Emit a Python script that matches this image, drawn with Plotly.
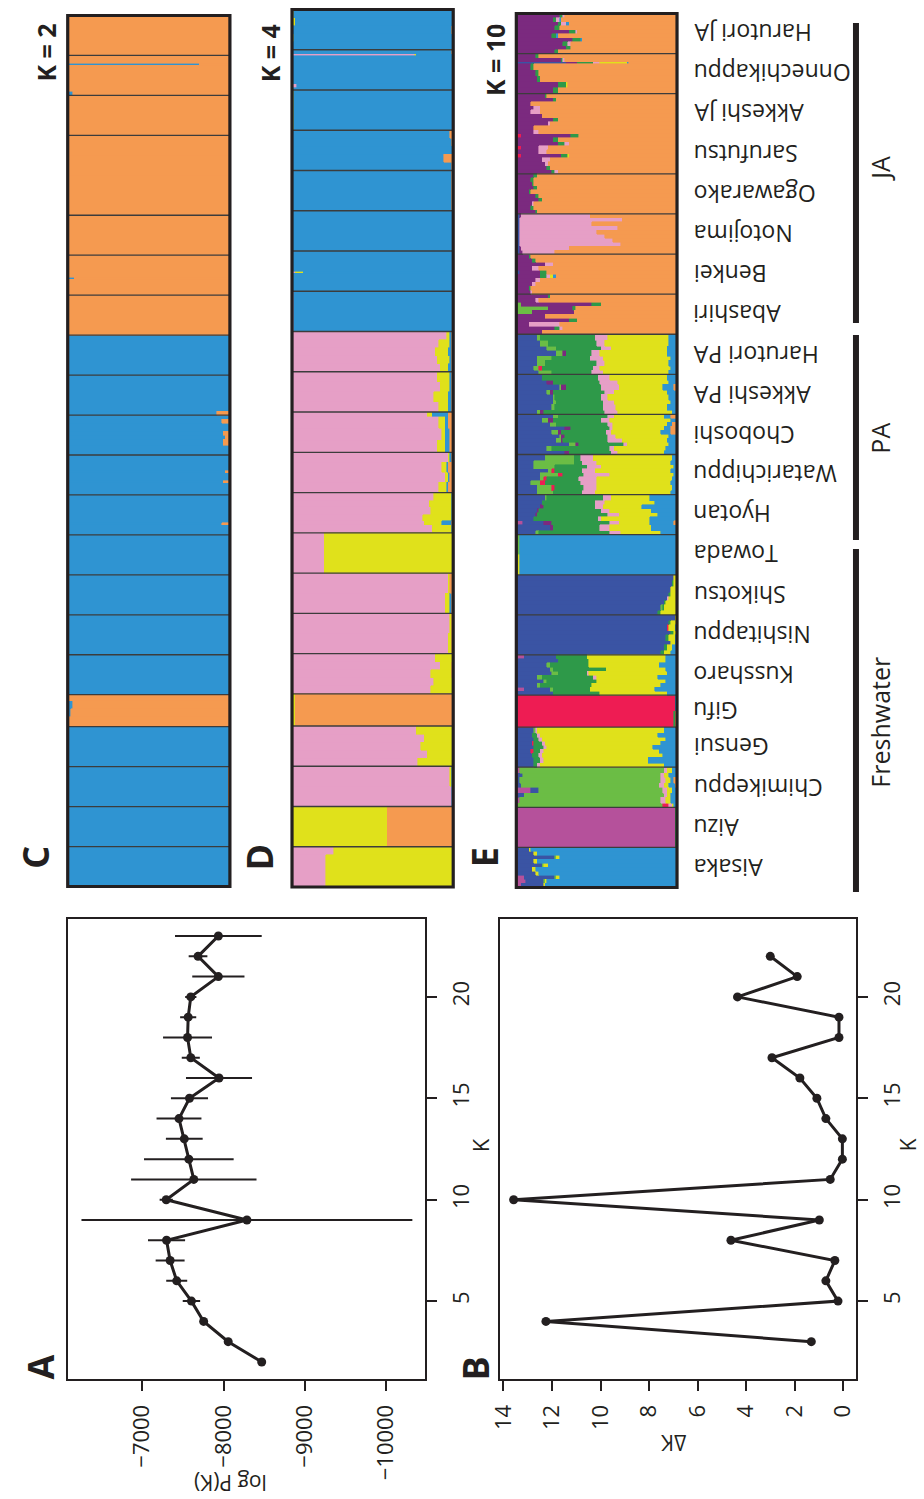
import plotly.graph_objects as go

W, H = 924, 1499
FONT = "Open Sans"
INK = "#231F20"

# ---------------- Panel A / B data ----------------
K_RANGE = list(range(2, 24))
LOGPK_MEAN = [-8469, -8057, -7755, -7605, -7424, -7343, -7299, -8287, -7295, -7634, -7573,
              -7517, -7452, -7581, -7944, -7597, -7557, -7565, -7597, -7936, -7686, -7936]
LOGPK_SD = [10, 24, 15, 107, 129, 178, 228, 2034, 81, 771, 551,
            226, 276, 228, 406, 111, 301, 99, 69, 321, 115, 533]
DK_K = list(range(3, 23))
DELTA_K = [1.32, 12.25, 0.22, 0.72, 0.35, 4.63, 0.99, 13.58, 0.54, 0.04,
           0.04, 0.72, 1.09, 1.79, 2.94, 0.18, 0.18, 4.36, 1.90, 3.01]
LOGPK_TICKS = [-7000, -8000, -9000, -10000]
DK_TICKS = [0, 2, 4, 6, 8, 10, 12, 14]
K_TICKS = [5, 10, 15, 20]

# ---------------- STRUCTURE data ----------------
POPULATIONS = ["Harutori JA", "Onnechikappu", "Akkeshi JA", "Sarufutsu", "Ogawarako", "Notojima",
               "Benkei", "Abashiri", "Harutori PA", "Akkeshi PA", "Choboshi", "Watarichippu", "Hyotan",
               "Towada", "Shikotsu", "Nishitappu", "Kussharo", "Gifu", "Gensui", "Chimikeppu",
               "Aizu", "Aisaka"]
POP_SIZES = [20, 20, 20, 20, 20, 20, 20, 20, 20, 20, 20, 20, 20, 20, 20, 20, 20, 16, 20, 20, 20, 20]
GROUPS = ["JA", "PA", "Freshwater"]

K2_CLUSTERS = ["B", "O"]
K4_CLUSTERS = ["K", "Y", "B", "O"]
K10_CLUSTERS = ["M", "N", "L", "R", "P", "G", "K", "Y", "B", "O"]
COLORS = {"M": "#B5519B", "N": "#3A54A4", "L": "#6BBD45", "R": "#EE1C53", "P": "#7B2A7F",
          "G": "#2E9949", "K": "#E69FC6", "Y": "#E0E11B", "B": "#2F94D2", "O": "#F59A50"}

# rows per population: (individuals, admixture % by cluster; '*' = remainder)
K2_ROWS = {
    "Harutori JA": [(20, "B1 O*")],
    "Onnechikappu": [(4, "B1 O*"), (1, "B81 O*"), (13, "B1 O*"), (2, "B3 O*")],
    "Akkeshi JA": [(20, "O*")],
    "Sarufutsu": [(10, "B1 O*"), (10, "O*")],
    "Ogawarako": [(20, "O*")],
    "Notojima": [(20, "O*")],
    "Benkei": [(11, "O*"), (1, "B4 O*"), (8, "O*")],
    "Abashiri": [(20, "O*")],
    "Harutori PA": [(20, "B*")],
    "Akkeshi PA": [(18, "B*"), (2, "B92 O*")],
    "Choboshi": [(2, "B*"), (2, "B95 O*"), (4, "B*"), (2, "B96 O*"), (2, "B97 O*"), (3, "B96 O*"), (5, "B*")],
    "Watarichippu": [(8, "B*"), (1, "B97 O*"), (4, "B*"), (1, "B96 O*"), (6, "B*")],
    "Hyotan": [(14, "B*"), (1, "B95 O*"), (5, "B*")],
    "Towada": [(20, "B*")],
    "Shikotsu": [(20, "B*")],
    "Nishitappu": [(20, "B*")],
    "Kussharo": [(20, "B*")],
    "Gifu": [(3, "B1 O*"), (4, "B3 O*"), (4, "B2 O*"), (5, "B1 O*")],
    "Gensui": [(20, "B*")],
    "Chimikeppu": [(20, "B99 O*")],
    "Aizu": [(20, "B*")],
    "Aisaka": [(20, "B*")],
}

K4_ROWS = {
    "Harutori JA": [(4, "Y1 B*"), (4, "Y2 B*"), (4, "B* O1"), (4, "Y1 B*"), (4, "B*")],
    "Onnechikappu": [(2, "B* O1"), (1, "K76 Y1 B*"), (14, "B*"), (2, "K3 B*"), (1, "B*")],
    "Akkeshi JA": [(20, "Y1 B*")],
    "Sarufutsu": [(4, "B* O2"), (4, "B* O1"), (4, "B*"), (4, "B* O6"), (4, "B* O1")],
    "Ogawarako": [(20, "B* O1")],
    "Notojima": [(20, "B*")],
    "Benkei": [(10, "B*"), (1, "K2 Y5 B*"), (9, "B*")],
    "Abashiri": [(20, "K1 B*")],
    "Harutori PA": [(4, "K96 Y2 B1 O*"), (4, "K91 Y7 B1 O*"), (4, "K89 Y8 B2 O*"),
                    (4, "K90 Y8 B1 O*"), (4, "K92 Y5 B2 O*")],
    "Akkeshi PA": [(5, "K90 Y8 B1 O*"), (5, "K92 Y6 B1 O*"), (5, "K88 Y9 B2 O*"), (5, "K91 Y6 B2 O*")],
    "Choboshi": [(2, "K84 Y3 B10 O*"), (6, "K91 Y4 B2 O*"), (6, "K93 Y2 B3 O*"), (6, "K90 Y5 B3 O*")],
    "Watarichippu": [(5, "K97 Y1 B1 O*"), (5, "K93 Y3 B1 O*"), (5, "K95 Y2 B1 O*"), (5, "K91 Y5 B1 O*")],
    "Hyotan": [(4, "K88 Y11 B*"), (3, "K85 Y14 B*"), (4, "K86 Y13 B*"), (3, "K81 Y18 B*"),
               (2, "K82 Y11 B6 O*"), (4, "K87 Y12 B*")],
    "Towada": [(20, "K20 Y*")],
    "Shikotsu": [(10, "K97 Y1 O*"), (10, "K95 Y3 B1 O*")],
    "Nishitappu": [(10, "K98 Y1 O*"), (10, "K97 Y2 O*")],
    "Kussharo": [(4, "K89 Y*"), (4, "K92 Y7 O*"), (4, "K86 Y13 O*"), (4, "K88 Y*"), (4, "K86 Y*")],
    "Gifu": [(16, "Y2 O*")],
    "Gensui": [(4, "K77 Y*"), (4, "K82 Y*"), (4, "K80 Y*"), (4, "K84 Y*"), (4, "K78 Y*")],
    "Chimikeppu": [(10, "K98 Y1 B*"), (10, "K99 B*")],
    "Aizu": [(20, "Y59 O*")],
    "Aisaka": [(4, "K26 Y*"), (16, "K21 Y*")],
}

K10_ROWS = {
    "Harutori JA": [(2, "N1 P26 G2 K1 O*"), (2, "N1 P22 G2 K2 B1 O*"), (2, "P26 G2 K3 B2 O*"),
                    (2, "N1 P23 G3 O*"), (2, "P33 G4 K1 O*"), (2, "N1 P21 G3 B1 O*"), (2, "P35 G5 B1 O*"),
                    (2, "P29 G3 K2 O*"), (2, "N1 P30 G3 O*"), (2, "P24 G2 O*")],
    "Onnechikappu": [(2, "P12 G2 O*"), (2, "P28 G1 K1 O*"), (1, "N31 P7 G10 K4 Y17 B1 O*"),
                     (3, "P9 G2 O*"), (3, "P12 G2 O*"), (3, "P13 G2 O*"), (3, "P26 G5 Y1 O*"), (3, "P23 G3 O*")],
    "Akkeshi JA": [(2, "P18 G1 O*"), (2, "P23 G2 O*"), (2, "P9 O*"), (2, "P11 K4 O*"), (2, "P9 K6 O*"),
                   (2, "P16 O*"), (2, "P23 G3 O*"), (2, "P20 K1 O*"), (2, "P11 O*"), (2, "P11 K3 O*")],
    "Sarufutsu": [(2, "R3 P31 G5 O*"), (2, "P23 G3 O*"), (2, "P26 G4 K3 O*"), (2, "R3 P11 K6 O*"),
                  (2, "P14 K5 O*"), (2, "R3 P25 G4 Y1 O*"), (2, "P16 K5 O*"), (2, "P18 K2 O*"),
                  (2, "P19 G2 O*"), (2, "P22 G2 K2 O*")],
    "Ogawarako": [(2, "P11 G2 O*"), (2, "P9 G2 O*"), (2, "P10 G1 O*"), (2, "P11 G2 O*"), (2, "P8 G1 O*"),
                  (2, "P12 G2 O*"), (2, "P14 G2 O*"), (2, "P10 K1 O*"), (2, "P9 G2 O*"), (2, "P12 G1 O*")],
    "Notojima": [(2, "N2 P1 K43 O*"), (2, "N2 K64 O*"), (2, "N2 K45 O*"), (2, "N2 K61 O*"), (2, "N2 K48 O*"),
                 (2, "N2 K53 O*"), (2, "N2 K58 O*"), (2, "N2 K63 O*"), (2, "N2 P1 K30 O*"), (2, "N2 P2 K20 O*")],
    "Benkei": [(2, "P8 G1 O*"), (2, "P10 G2 O*"), (2, "P18 K5 O*"), (2, "P10 K4 O*"), (2, "N2 P13 G4 O*"),
               (2, "P15 G4 K2 Y2 B2 O*"), (2, "P12 K3 O*"), (2, "P10 K2 O*"), (2, "P8 G1 O*"), (2, "P9 K1 O*")],
    "Abashiri": [(2, "P20 G1 O*"), (2, "P12 K2 O*"), (2, "L3 P44 G6 O*"), (2, "L20 P15 G2 O*"),
                 (2, "L10 P26 O*"), (2, "P18 O*"), (2, "P33 G5 O*"), (2, "P8 K19 O*"), (2, "P24 G3 K2 O*"),
                 (2, "P16 O*")],
    "Harutori PA": [(3, "M1 N12 L2 G34 K8 Y38 B*"), (3, "N15 L5 G30 K5 Y40 B*"), (2, "N19 L6 G28 K6 Y35 B*"),
                    (3, "N25 L4 P2 G16 K5 Y42 B*"), (2, "N13 L9 G24 K8 Y42 B*"), (3, "N13 L5 G32 K5 Y40 B*"),
                    (2, "N11 L3 R2 G32 K4 Y44 B*"), (2, "N14 L8 G25 K7 Y41 B*")],
    "Akkeshi PA": [(3, "N16 G35 K7 Y36 B*"), (2, "N19 P4 G29 K11 Y32 B*"), (3, "N27 L1 P3 G22 K11 Y27 B7 O*"),
                   (2, "N19 L2 P2 G32 K6 Y33 B*"), (3, "N23 L1 G29 K4 Y38 B*"), (2, "N23 L2 G29 K7 Y35 B*"),
                   (3, "N22 L2 G30 K8 Y32 B*"), (2, "N13 L2 P2 G38 K8 Y34 B*")],
    "Choboshi": [(2, "N23 L3 G31 K4 Y31 B4 O*"), (2, "N16 L4 P3 G30 K5 Y38 B*"), (2, "N21 L4 G32 K3 Y34 B3 O*"),
                 (2, "N30 P4 G24 K2 Y32 B4 O*"), (2, "N22 L4 P2 G28 K3 Y31 B6 O*"), (2, "N27 L1 P2 G27 K5 Y33 B*"),
                 (2, "N25 L3 P1 G28 K9 Y28 B*"), (2, "N33 L4 P2 G28 K2 Y26 B*"), (2, "N19 L3 G36 K3 Y32 B*"),
                 (2, "N30 P3 G26 K4 Y29 B*")],
    "Watarichippu": [(3, "N18 L18 G4 K8 Y49 B*"), (2, "N11 L25 G5 K9 Y46 B*"), (2, "N11 L13 G20 K9 Y45 B*"),
                     (2, "N20 L2 R2 G17 K8 Y47 B*"), (2, "N15 L11 R3 G13 K16 Y40 B*"),
                     (2, "N15 L2 R2 G20 K11 Y47 B*"), (2, "N9 L6 R3 G22 K10 Y46 B*"),
                     (3, "N13 L9 R2 G18 K8 Y47 B*"), (2, "N13 L10 G18 K8 Y47 B*")],
    "Hyotan": [(3, "N18 L1 G35 K5 Y24 B*"), (2, "N16 G33 K6 Y31 B*"), (2, "N15 P2 G32 K5 Y24 B*"),
               (2, "N13 P1 G39 K5 Y26 B*"), (2, "N12 P1 G44 K7 Y24 B*"), (2, "N11 G40 K2 Y30 B*"),
               (2, "M4 N13 P5 G36 K6 Y19 B15 O*"), (3, "N21 P2 G29 K6 Y26 B*"), (2, "N12 L2 G44 K7 Y25 B*")],
    "Towada": [(10, "L2 B*"), (10, "L1 Y1 B*")],
    "Shikotsu": [(3, "N98 Y2"), (3, "N97 G1 Y2"), (3, "N96 Y4"), (2, "N95 G1 Y4"), (2, "N94 K1 Y5"),
                 (2, "N92 G1 Y7"), (3, "N90 L1 G1 Y8"), (2, "N88 G2 Y10")],
    "Nishitappu": [(3, "N99 Y1"), (2, "N95 G1 Y4"), (3, "N94 R1 Y4 B1"), (2, "N96 G2 Y2"),
                   (3, "N93 G2 Y4 B1"), (2, "N96 Y3 B1"), (3, "N92 G2 Y3 B3"), (2, "N90 G2 Y4 B4")],
    "Kussharo": [(2, "M5 N20 G19 Y49 B*"), (2, "M1 N25 G19 Y48 B*"), (2, "N19 L2 G24 Y44 B*"),
                 (2, "N21 L2 G33 Y37 B*"), (2, "N22 L4 G18 K1 Y49 B*"), (2, "N13 L3 G32 K2 Y38 B*"),
                 (2, "N17 L2 G31 Y43 B*"), (2, "N13 L2 G32 Y43 B*"), (2, "M5 N16 L2 G23 Y40 B*"),
                 (2, "N23 G29 Y42 B*")],
    "Gifu": [(8, "M1 R98 B1"), (8, "G1 R98 O1")],
    "Gensui": [(3, "N11 L1 K1 Y79 B*"), (2, "N10 G3 K2 Y73 B*"), (2, "N11 G3 K2 Y77 B*"),
               (2, "N10 R1 G5 K2 Y72 B*"), (2, "N11 G6 K2 Y66 B*"), (2, "N9 R2 G4 K2 Y72 B*"),
               (2, "N10 G4 K2 Y75 B*"), (3, "N11 G4 K2 Y65 B*"), (2, "N11 G2 K2 Y77 B*")],
    "Chimikeppu": [(3, "M2 L90 K2 Y3 B*"), (2, "M1 N3 L86 K2 Y3 B*"), (3, "N2 L88 K3 Y3 B2 O*"),
                   (2, "N3 L86 K3 Y3 B4 O*"), (3, "M9 N5 L77 K3 Y3 B*"), (2, "N5 L87 K2 Y2 B*"),
                   (3, "M2 L88 K3 Y3 B*"), (2, "L91 R4 K2 Y1 B*")],
    "Aizu": [(20, "M99 G1")],
    "Aisaka": [(2, "M1 N7 Y1 B*"), (2, "N11 Y2 B*"), (2, "N24 L1 Y2 B*"), (2, "N11 Y2 B*"),
               (2, "N16 L1 Y3 B*"), (2, "N10 Y2 B*"), (2, "N12 Y2 B*"), (2, "M5 N19 L1 Y2 B*"),
               (2, "M6 N11 L1 Y1 B*"), (2, "M3 N14 Y1 B*")],
}


def parse(spec):
    vals, rest = {}, None
    for tok in spec.split():
        if tok[1:] == "*":
            rest = tok[0]
        else:
            vals[tok[0]] = float(tok[1:])
    if rest:
        vals[rest] = 100.0 - sum(vals.values())
    return vals


def px(x):
    return x / W


def py(y):
    return 1 - y / H


fig = go.Figure()
TOTAL = sum(POP_SIZES)
pop_start = []
acc = 0
for s in POP_SIZES:
    pop_start.append(acc)
    acc += s

# panels: (axis number, rows, clusters, x-domain px, y-domain px, separators not drawn)
PANELS = [
    (3, K2_ROWS, K2_CLUSTERS, (55.5, 220), (15.5, 886.5), {4}),
    (4, K4_ROWS, K4_CLUSTERS, (283, 446.5), (9.5, 887), set()),
    (5, K10_ROWS, K10_CLUSTERS, (510.5, 673.5), (13.5, 887.5), {3}),
]

shapes = []
layout_axes = {}
for n, rows, clusters, (x0, x1), (y0, y1), skip in PANELS:
    series = {c: ([], [], []) for c in clusters}
    for pi, pop in enumerate(POPULATIONS):
        start = pop_start[pi]
        for cnt, spec in rows[pop]:
            v = parse(spec)
            for c in clusters:
                if v.get(c, 0) > 0:
                    series[c][0].append(v[c] / 100.0)
                    series[c][1].append(start + cnt / 2.0)
                    series[c][2].append(cnt)
            start += cnt
    for c in clusters:
        xs, ys, ws = series[c]
        fig.add_trace(go.Bar(x=xs, y=ys, width=ws, orientation="h",
                             marker=dict(color=COLORS[c], line=dict(color=COLORS[c], width=0.6)),
                             xaxis=f"x{n}", yaxis=f"y{n}", showlegend=False, hoverinfo="skip"))
    layout_axes[f"xaxis{n}"] = dict(domain=[px(x0), px(x1)], range=[0, 1], visible=False,
                                    anchor=f"y{n}", fixedrange=True)
    layout_axes[f"yaxis{n}"] = dict(domain=[py(y1), py(y0)], range=[TOTAL, 0], visible=False,
                                    anchor=f"x{n}", fixedrange=True)
    for i in range(1, len(POPULATIONS)):
        if i in skip:
            continue
        shapes.append(dict(type="line", xref=f"x{n} domain", yref=f"y{n}", x0=0, x1=1,
                           y0=pop_start[i], y1=pop_start[i], line=dict(color="#3c3c3c", width=1.3)))
    shapes.append(dict(type="rect", xref=f"x{n} domain", yref=f"y{n} domain", x0=0, x1=1, y0=0, y1=1,
                       line=dict(color=INK, width=3.2)))

# ---------------- panels A and B ----------------
fig.add_trace(go.Scatter(x=LOGPK_MEAN, y=K_RANGE, mode="lines+markers", xaxis="x", yaxis="y",
                         line=dict(color=INK, width=3), marker=dict(color=INK, size=9),
                         error_x=dict(type="data", array=LOGPK_SD, color=INK, thickness=2, width=0),
                         showlegend=False, hoverinfo="skip"))
fig.add_trace(go.Scatter(x=DELTA_K, y=DK_K, mode="lines+markers", xaxis="x2", yaxis="y2",
                         line=dict(color=INK, width=3), marker=dict(color=INK, size=9),
                         showlegend=False, hoverinfo="skip"))

tickfont = dict(family=FONT, size=22, color=INK)
common = dict(showline=True, linewidth=2, linecolor=INK, mirror=True, ticks="outside", ticklen=10,
              tickwidth=2, tickcolor=INK, showgrid=False, zeroline=False, tickangle=-90,
              tickfont=tickfont, fixedrange=True, ticklabelstandoff=5)
AB_Y = [py(1379), py(919)]
layout_axes["xaxis"] = dict(domain=[px(56), px(418)], range=[-6090, -10478], anchor="y",
                            tickvals=LOGPK_TICKS, ticktext=["\u2212" + str(abs(t)) for t in LOGPK_TICKS],
                            side="bottom", **common)
layout_axes["yaxis"] = dict(domain=AB_Y, range=[1.16, 23.84], anchor="x", side="right",
                            tickvals=K_TICKS, **common)
layout_axes["xaxis2"] = dict(domain=[px(494), px(855.5)], range=[14.14, -0.54], anchor="y2",
                             tickvals=DK_TICKS, side="bottom", **common)
layout_axes["yaxis2"] = dict(domain=AB_Y, range=[1.16, 23.84], anchor="x2", side="right",
                             tickvals=K_TICKS, **common)

# ---------------- annotations ----------------
ann = []


def text(x, y, s, size, angle, bold=False, xanchor="center", yanchor="middle"):
    ann.append(dict(x=px(x), y=py(y), xref="paper", yref="paper", text=f"<b>{s}</b>" if bold else s,
                    showarrow=False, textangle=angle, xanchor=xanchor, yanchor=yanchor,
                    font=dict(family=FONT, size=size, color=INK)))


text(220, 1483, "log P(K)", 21, 180)
text(474, 1145, "K", 22, -90)
text(670, 1443, "\u0394K", 21, 180)
text(908, 1145, "K", 21, -90)
for s, x, y in [("A", 27, 1367), ("B", 469, 1368), ("C", 22, 857), ("D", 250, 857), ("E", 478, 857)]:
    text(x, y, s, 36, -90, bold=True)
for s, x, y in [("K = 2", 33, 53), ("K = 4", 261, 53), ("K = 10", 489, 60)]:
    text(x, y, s, 25, -90, bold=True)

for pi, pop in enumerate(POPULATIONS):
    ann.append(dict(x=px(688), y=pop_start[pi] + POP_SIZES[pi] / 2.0, xref="paper", yref="y5", text=pop,
                    showarrow=False, textangle=180, xanchor="left", yanchor="middle",
                    font=dict(family=FONT, size=23, color=INK)))

GROUP_LABEL_POS = [(879, 168), (879, 438), (879, 722)]
GROUP_BAR_SPAN = [(23, 323), (335, 540), (549, 892)]
for g, (gx, gy), (b0, b1) in zip(GROUPS, GROUP_LABEL_POS, GROUP_BAR_SPAN):
    text(gx, gy, g, 25, -90)
    shapes.append(dict(type="line", xref="paper", yref="paper", x0=px(855), x1=px(855), y0=py(b0), y1=py(b1),
                       line=dict(color=INK, width=6)))

fig.update_layout(width=W, height=H, margin=dict(l=0, r=0, t=0, b=0), paper_bgcolor="white",
                  plot_bgcolor="white", barmode="stack", showlegend=False, shapes=shapes, annotations=ann,
                  font=dict(family=FONT, color=INK), **layout_axes)

fig.write_html("out.html", config={"displayModeBar": False, "staticPlot": True},
               post_script="document.body.style.margin='0px';document.body.style.overflow='hidden';")
